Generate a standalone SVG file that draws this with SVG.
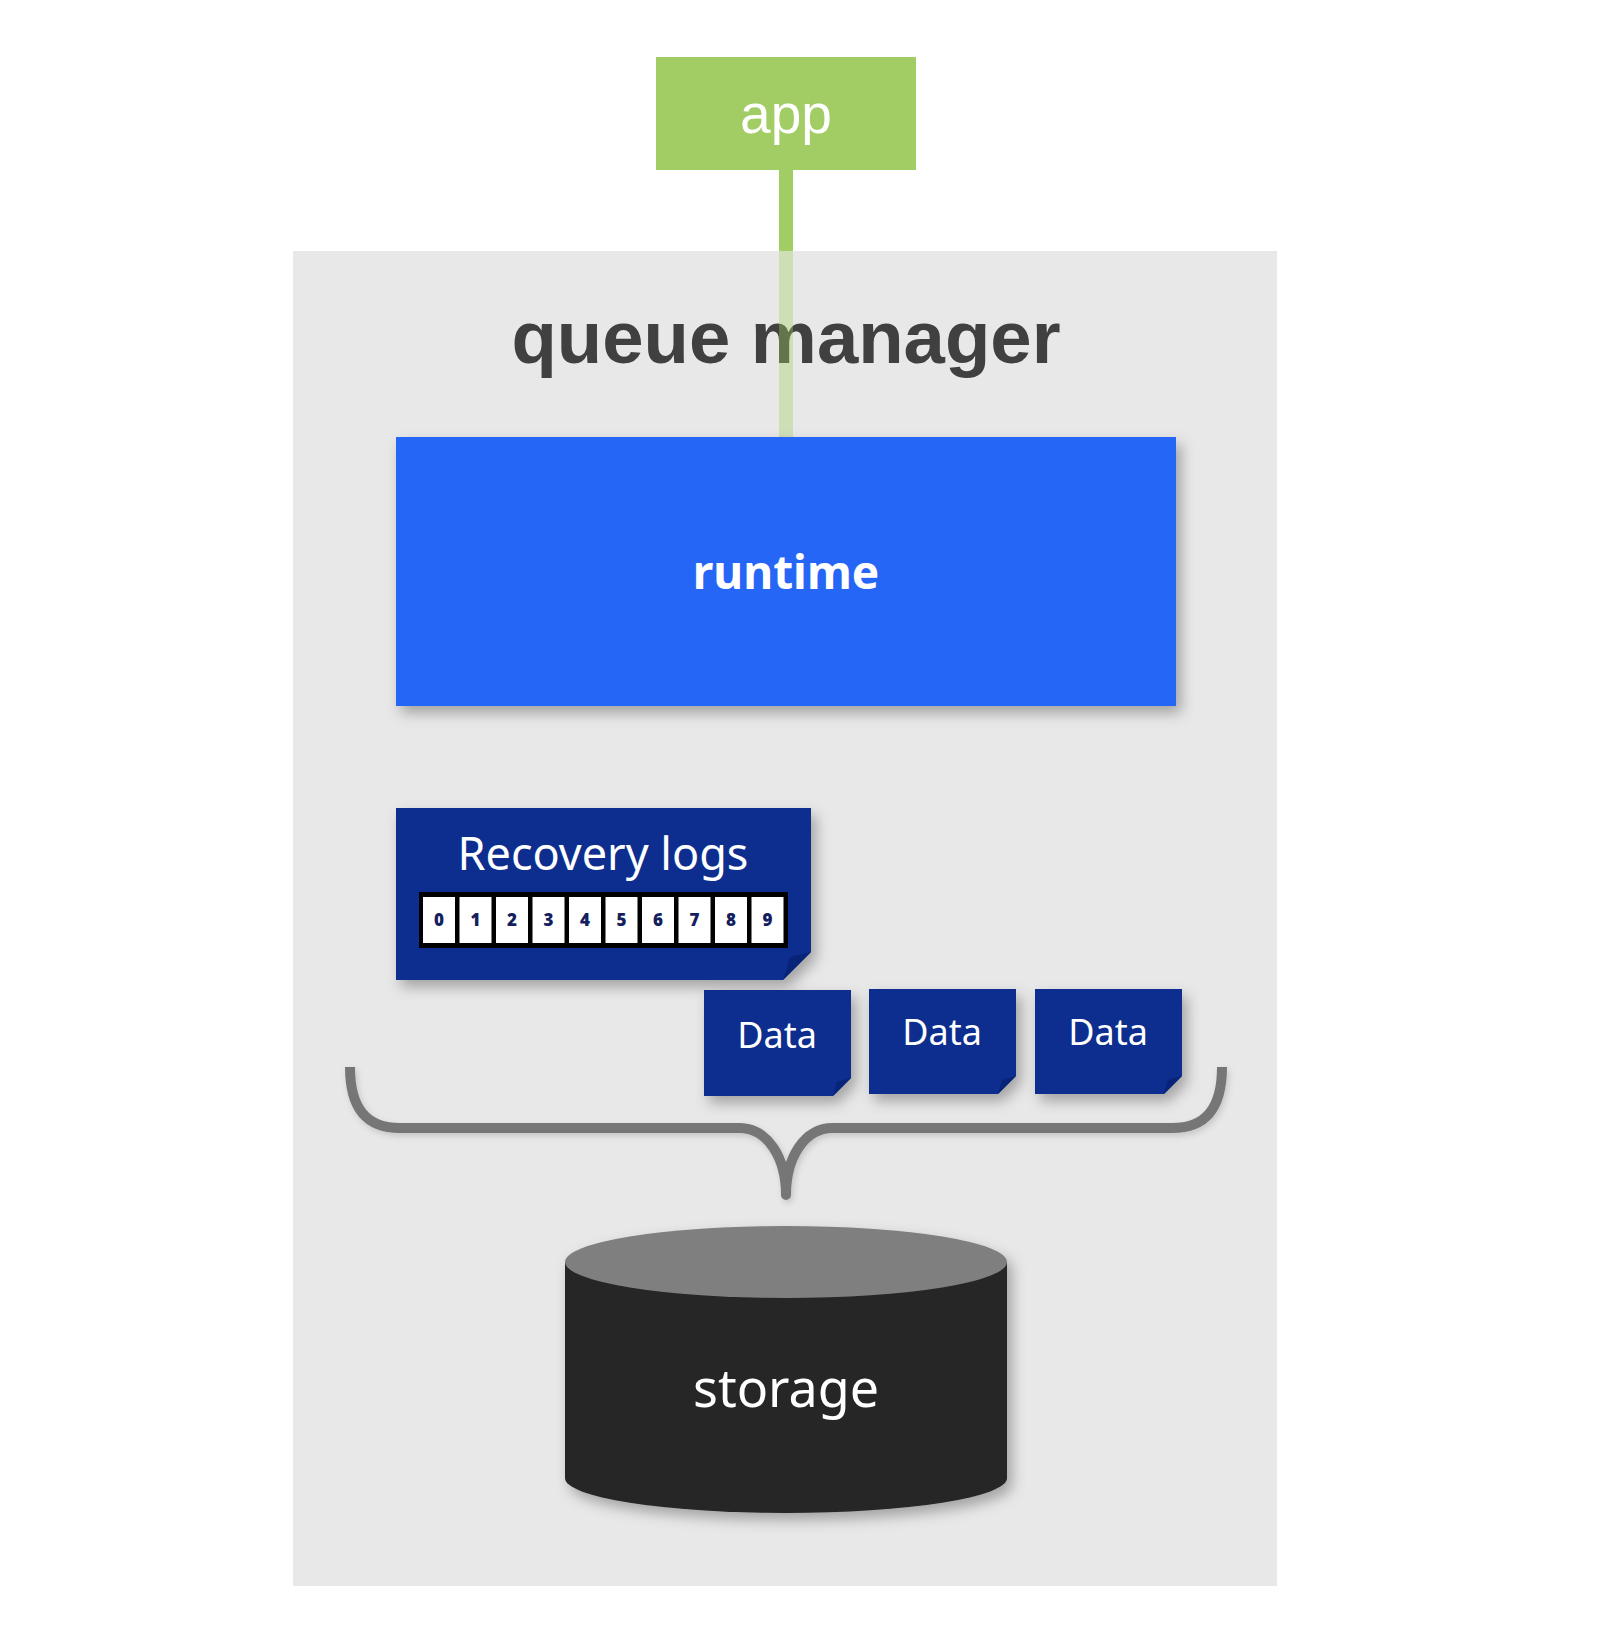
<svg xmlns="http://www.w3.org/2000/svg" width="1604" height="1632" viewBox="0 0 1604 1632">
  <style>
    .plex { font-family: "Noto Sans", "Open Sans", sans-serif; fill: #ffffff; text-anchor: middle; }
    .navy { fill: #0c2d8e; }
    .fold { fill: #082478; }
    .cell { fill: #ffffff; }
    .digit { font-family: "Noto Sans", sans-serif; font-weight: 900; font-size: 17px; fill: #14205e; text-anchor: middle; }
  </style>
  <defs>
    <filter id="shadow" x="-20%" y="-20%" width="150%" height="160%">
      <feDropShadow dx="5" dy="7" stdDeviation="7" flood-color="#000000" flood-opacity="0.3"/>
    </filter>
    <filter id="softshadow" x="-5%" y="-20%" width="110%" height="160%">
      <feDropShadow dx="2" dy="3" stdDeviation="3" flood-color="#000000" flood-opacity="0.15"/>
    </filter>
  </defs>
  <rect x="0" y="0" width="1604" height="1632" fill="#ffffff"/>

  <g id="connectors">
    <line x1="786" y1="170" x2="786" y2="252" stroke="#a2cd65" stroke-width="14"/>
  </g>

  <g id="queue-manager">
    <rect x="293" y="251" width="984" height="1335" fill="#e8e8e8"/>
    <text x="786" y="363" font-family="'Liberation Sans', Arial, sans-serif" font-weight="bold" font-size="74.3" fill="#404040" text-anchor="middle">queue manager</text>
  </g>

  <g id="connector-inner">
    <line x1="786" y1="251" x2="786" y2="437" stroke="#a2cd65" stroke-width="14" stroke-opacity="0.37"/>
  </g>

  <g id="app">
    <rect x="656" y="57" width="260" height="113" fill="#a2cd65"/>
    <text x="786" y="133" font-family="'Liberation Sans', Arial, sans-serif" font-size="55" fill="#ffffff" text-anchor="middle">app</text>
  </g>

  <g id="runtime">
    <rect x="396" y="437" width="780" height="269" fill="#2766f6" filter="url(#shadow)"/>
    <text x="786" y="589" class="plex" font-weight="bold" font-size="46">runtime</text>
  </g>

  <g id="recovery-logs">
    <polygon class="navy" points="396,808 811,808 811,952 783,980 396,980" filter="url(#shadow)"/>
    <polygon class="fold" points="811,952 783,980 790,957"/>
    <text x="603" y="870" class="plex" font-size="45">Recovery logs</text>
    <rect x="419" y="892" width="369" height="56" fill="#000000"/>
    <g>
      <rect class="cell" x="423" y="897" width="32" height="46"/>
      <rect class="cell" x="459.5" y="897" width="32" height="46"/>
      <rect class="cell" x="496" y="897" width="32" height="46"/>
      <rect class="cell" x="532.5" y="897" width="32" height="46"/>
      <rect class="cell" x="569" y="897" width="32" height="46"/>
      <rect class="cell" x="605.5" y="897" width="32" height="46"/>
      <rect class="cell" x="642" y="897" width="32" height="46"/>
      <rect class="cell" x="678.5" y="897" width="32" height="46"/>
      <rect class="cell" x="715" y="897" width="32" height="46"/>
      <rect class="cell" x="751.5" y="897" width="32" height="46"/>
    </g>
    <text class="digit" x="439" y="926">0</text>
    <text class="digit" x="475.5" y="926">1</text>
    <text class="digit" x="512" y="926">2</text>
    <text class="digit" x="548.5" y="926">3</text>
    <text class="digit" x="585" y="926">4</text>
    <text class="digit" x="621.5" y="926">5</text>
    <text class="digit" x="658" y="926">6</text>
    <text class="digit" x="694.5" y="926">7</text>
    <text class="digit" x="731" y="926">8</text>
    <text class="digit" x="767.5" y="926">9</text>
  </g>

  <g id="data-1">
    <polygon class="navy" points="704,990 851,990 851,1078 833,1096 704,1096" filter="url(#shadow)"/>
    <polygon class="fold" points="851,1078 833,1096 837,1082"/>
    <text x="777" y="1048" class="plex" font-size="36">Data</text>
  </g>
  <g id="data-2">
    <polygon class="navy" points="869,989 1016,989 1016,1076 998,1094 869,1094" filter="url(#shadow)"/>
    <polygon class="fold" points="1016,1076 998,1094 1002,1080"/>
    <text x="942" y="1045" class="plex" font-size="36">Data</text>
  </g>
  <g id="data-3">
    <polygon class="navy" points="1035,989 1182,989 1182,1076 1164,1094 1035,1094" filter="url(#shadow)"/>
    <polygon class="fold" points="1182,1076 1164,1094 1168,1080"/>
    <text x="1108" y="1045" class="plex" font-size="36">Data</text>
  </g>

  <g id="brace">
    <path d="M350,1067 C350,1108 366,1128 400,1128 L739,1128 C768,1128 786,1158 786,1195 C786,1158 804,1128 833,1128 L1172,1128 C1206,1128 1222,1108 1222,1067" fill="none" stroke="#767676" stroke-width="10" stroke-linecap="butt" stroke-linejoin="round" filter="url(#softshadow)"/>
  </g>

  <g id="storage">
    <g filter="url(#shadow)">
      <path d="M565,1262 L565,1478 A221,35 0 0 0 1007,1478 L1007,1262 Z" fill="#262626"/>
      <ellipse cx="786" cy="1262" rx="221" ry="36" fill="#7f7f7f"/>
    </g>
    <text x="786" y="1407" class="plex" font-size="52">storage</text>
  </g>
</svg>
